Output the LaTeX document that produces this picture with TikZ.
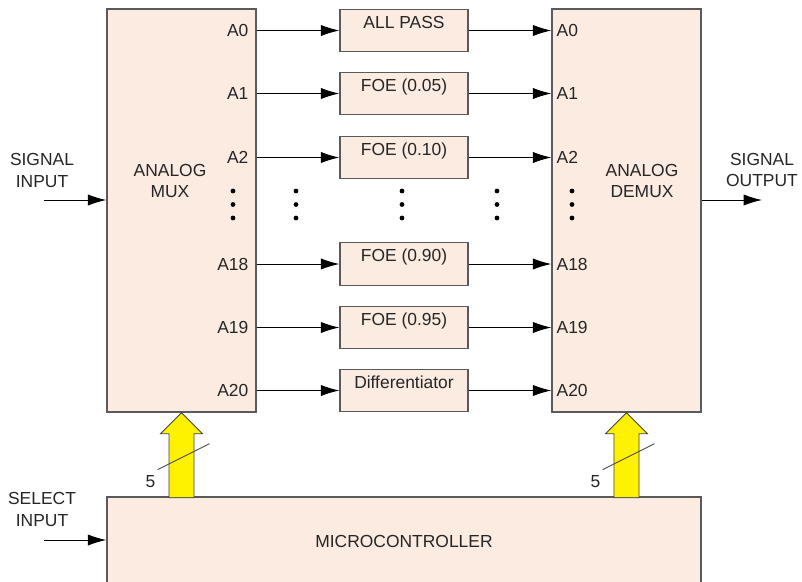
\documentclass[tikz,border=0pt]{standalone}
\usepackage{fontspec}
\setmainfont{Liberation Sans}
\usetikzlibrary{arrows.meta, calc}
\definecolor{boxfill}{RGB}{251,235,225}
\definecolor{boxline}{RGB}{90,90,90}

\begin{document}
\begin{tikzpicture}[x=0.025cm, y=-0.025cm,
        every node/.style={font=\fontsize{12.4}{15}\selectfont, text=black!85},
        blk/.style={rectangle, draw=boxline, line width=0.9pt, fill=boxfill,
                    inner sep=0pt},
        filt/.style={blk, minimum width=3.2cm, text height=0.475cm,
                     text depth=0.59cm},
        port/.style={inner sep=0pt},
        arr/.style={-{Latex[length=4.6mm,width=2.8mm]}, line width=0.7pt},
        bus/.style={draw=black!75, fill=yellow, line width=0.6pt},
        slash/.style={draw=black!70, line width=0.6pt}]
      \useasboundingbox (0,0) rectangle (802,581);
      \node[blk, minimum width=3.725cm, minimum height=10.075cm] (mux) at (181.5,210.5) {};
      \node[blk, minimum width=3.725cm, minimum height=10.075cm] (demux) at (626.5,210.5) {};
      \node[blk, minimum width=14.85cm, minimum height=2.2cm] (mcu) at (404,541) {MICROCONTROLLER};
      \node[align=center] (muxlbl) at (170,181) {ANALOG\\MUX};
      \node[align=center] (demuxlbl) at (642,181) {ANALOG\\DEMUX};
      % filter bank
      \foreach \n/\y/\txt in {0/30.5/ALL PASS, 1/93.5/FOE (0.05), 2/157.5/FOE (0.10),
                              18/264/FOE (0.90), 19/327.5/FOE (0.95), 20/390.5/Differentiator} {
        \node[filt] (f\n) at (404,\y) {\txt};
        \node[port, anchor=east] (mA\n) at ($(mux.east |- f\n.west)+(-8,0)$) {A\n};
        \node[port, anchor=west] (dA\n) at ($(demux.west |- f\n.east)+(5,0)$) {A\n};
        \draw[arr] (mux.east |- f\n.west) -- (f\n.west);
        \draw[arr] (f\n.east) -- (demux.west |- f\n.east);
      }
      \foreach \x in {233,296,402,497,572}
        \foreach \y in {191,204.5,218}
          \fill (\x,\y) circle (0.06cm);
      % inputs and output
      \node[align=center] (sinlbl) at (42,170.5) {SIGNAL\\INPUT};
      \coordinate (sin) at (44,200);
      \draw[arr] (sin) -- (sin -| mux.west);
      \node[align=center] (soutlbl) at (762,170) {SIGNAL\\OUTPUT};
      \coordinate (sout) at (762,200);
      \draw[arr] (demux.east |- sout) -- (sout);
      \node[align=center] (sellbl) at (42,509.5) {SELECT\\INPUT};
      \coordinate (sel) at (44,540);
      \draw[arr] (sel) -- (sel -| mcu.west);
      % 5-bit select buses
      \foreach \b in {mux,demux} {
        \draw[bus] (\b.south) -- ++(21,21) -- ++(-8.5,0) -- ++(0,64) -- ++(-25,0)
                   -- ++(0,-64) -- ++(-8.5,0) -- cycle;
        \draw[slash] ($(\b.south)+(-24,57)$) -- ($(\b.south)+(28,31)$);
        \node (n\b) at ($(\b.south)+(-31,69)$) {5};
      }
    \end{tikzpicture}
\end{document}
